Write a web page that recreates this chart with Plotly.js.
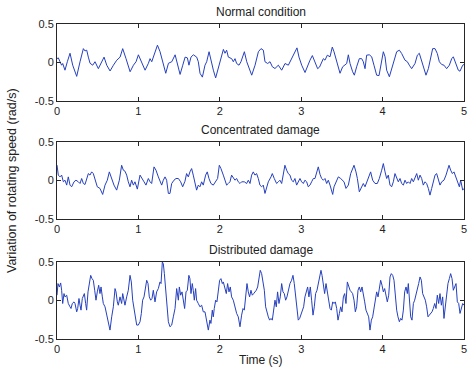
<!DOCTYPE html>
<html><head><meta charset="utf-8">
<script src="https://cdn.plot.ly/plotly-3.0.1.min.js"></script>
<style>html,body{margin:0;padding:0;background:#fff}#c{width:473px;height:374px}</style>
</head><body><div id="c"></div>
<script>
// ---- data ----
const titles = ["Normal condition", "Concentrated damage", "Distributed damage"];
const xTicks = [0, 1, 2, 3, 4, 5];
const yTicks = [-0.5, 0, 0.5];
const yTickText = ["-0.5", "0", "0.5"];

const tNormal = [0,0.016,0.037,0.057,0.07,0.098,0.127,0.16,0.193,0.242,0.283,0.324,0.344,0.365,0.385,0.406,0.439,0.467,0.508,0.549,0.578,0.611,0.652,0.693,0.734,0.775,0.807,0.848,0.898,0.939,0.971,1.0,1.041,1.082,1.123,1.143,1.164,1.184,1.234,1.266,1.299,1.336,1.369,1.41,1.451,1.484,1.512,1.545,1.574,1.602,1.621,1.646,1.675,1.716,1.736,1.757,1.786,1.818,1.839,1.868,1.892,1.921,1.949,1.982,2.015,2.044,2.064,2.084,2.105,2.146,2.166,2.187,2.207,2.236,2.26,2.302,2.331,2.371,2.392,2.433,2.474,2.506,2.535,2.555,2.588,2.617,2.646,2.678,2.719,2.76,2.801,2.842,2.883,2.924,2.948,2.973,3.006,3.047,3.079,3.108,3.137,3.17,3.202,3.225,3.272,3.292,3.321,3.354,3.382,3.403,3.436,3.477,3.509,3.538,3.559,3.579,3.6,3.632,3.653,3.681,3.714,3.743,3.763,3.784,3.804,3.837,3.866,3.894,3.927,3.956,3.989,4.009,4.03,4.05,4.083,4.111,4.14,4.173,4.206,4.234,4.275,4.304,4.328,4.357,4.398,4.427,4.451,4.48,4.509,4.533,4.562,4.59,4.615,4.644,4.672,4.697,4.726,4.754,4.787,4.82,4.849,4.869,4.902,4.93,4.951,4.984,5.0];
const vNormal = [0.05,0.06,0.01,-0.035,-0.013,-0.10,0.01,0.12,-0.035,-0.18,0.01,0.18,0.15,0.16,0.07,-0.01,-0.035,0.01,-0.08,0.01,0.07,-0.035,-0.11,-0.035,0.03,0.07,0.18,0.05,-0.12,-0.035,0.01,0.10,0.01,-0.10,-0.01,0.05,0.01,0.07,0.225,0.14,-0.01,-0.14,-0.01,0.01,0.10,-0.035,-0.155,-0.035,0.07,0.06,-0.035,0.07,0.10,0.07,0.01,-0.14,-0.19,-0.035,0.01,0.14,0.01,-0.10,-0.20,-0.08,0.05,0.17,0.12,0.16,0.07,0.05,0.01,0.05,-0.013,-0.035,0.01,0.14,0.01,-0.10,-0.165,-0.035,0.14,0.18,0.16,0.01,-0.013,0.01,-0.056,-0.078,-0.035,-0.10,-0.013,-0.035,0.05,0.14,0.19,0.07,-0.035,-0.13,-0.035,0.03,0.09,0.01,-0.08,-0.06,0.05,0.03,0.095,0.074,0.20,0.14,0.01,-0.14,-0.056,-0.035,-0.013,0.10,-0.013,-0.12,-0.165,-0.056,0.05,0.05,0.01,-0.08,0.095,0.10,0.074,-0.035,-0.165,-0.17,0.01,0.14,0.074,-0.10,-0.185,-0.08,0.01,0.14,0.16,0.117,0.03,0.01,-0.035,-0.08,-0.013,0.095,0.12,0.01,-0.10,-0.165,-0.08,0.05,0.18,0.18,0.117,0.01,-0.026,-0.035,-0.08,-0.035,0.05,0.074,-0.013,-0.10,-0.113,-0.035,-0.026];

const tConc = [0,0.016,0.037,0.057,0.078,0.098,0.119,0.139,0.16,0.18,0.209,0.233,0.262,0.283,0.303,0.324,0.344,0.364,0.385,0.405,0.426,0.446,0.467,0.495,0.528,0.561,0.59,0.618,0.643,0.672,0.70,0.733,0.766,0.794,0.815,0.835,0.856,0.876,0.897,0.917,0.938,0.958,0.987,1.02,1.04,1.069,1.093,1.122,1.143,1.163,1.192,1.216,1.245,1.265,1.286,1.306,1.327,1.347,1.368,1.388,1.409,1.437,1.462,1.491,1.519,1.544,1.572,1.592,1.613,1.633,1.654,1.674,1.695,1.715,1.736,1.756,1.777,1.797,1.826,1.846,1.867,1.891,1.92,1.949,1.973,1.994,2.014,2.043,2.063,2.084,2.104,2.125,2.145,2.166,2.186,2.207,2.227,2.248,2.268,2.301,2.33,2.35,2.371,2.391,2.411,2.432,2.452,2.473,2.493,2.514,2.534,2.555,2.575,2.596,2.629,2.645,2.669,2.698,2.719,2.739,2.76,2.78,2.80,2.821,2.841,2.862,2.882,2.903,2.923,2.944,2.964,2.985,3.005,3.026,3.046,3.067,3.087,3.108,3.128,3.149,3.169,3.19,3.21,3.231,3.251,3.272,3.292,3.313,3.333,3.354,3.374,3.387,3.403,3.428,3.456,3.485,3.509,3.526,3.55,3.579,3.608,3.628,3.649,3.673,3.69,3.714,3.743,3.763,3.784,3.812,3.837,3.853,3.878,3.907,3.935,3.96,3.989,4.009,4.03,4.05,4.07,4.091,4.111,4.132,4.152,4.173,4.193,4.214,4.234,4.255,4.275,4.296,4.316,4.337,4.357,4.378,4.398,4.419,4.439,4.46,4.48,4.50,4.521,4.541,4.562,4.582,4.603,4.623,4.644,4.664,4.685,4.705,4.726,4.754,4.779,4.799,4.816,4.836,4.857,4.877,4.902,4.922,4.943,4.959,4.984,5.0];
const vConc = [0.20,0.07,0.047,0.07,-0.017,0.004,-0.06,0.047,-0.06,-0.082,-0.017,0.004,-0.017,-0.039,0.026,-0.039,-0.052,0.004,0.09,0.07,0.112,0.09,0.026,-0.082,-0.103,-0.181,-0.06,0.004,0.112,0.026,-0.06,-0.125,0.004,0.198,0.134,0.121,0.07,-0.017,-0.082,0.004,-0.06,-0.017,-0.112,0.07,0.026,-0.017,-0.06,0.026,-0.017,-0.039,0.177,0.134,0.047,-0.017,-0.06,0.004,0.047,0.004,-0.168,-0.168,-0.039,0.004,0.026,0.026,-0.017,-0.082,-0.01,0.09,0.047,0.112,0.155,0.07,-0.017,-0.125,-0.06,-0.082,-0.017,-0.06,0.07,0.112,0.026,-0.039,-0.06,-0.017,0.026,0.198,0.155,0.07,0.004,-0.06,-0.039,-0.017,0.07,0.026,0.004,0.026,-0.017,-0.039,-0.017,-0.017,-0.039,0.004,-0.039,0.07,0.112,0.07,0.09,0.026,-0.06,-0.082,-0.06,-0.168,-0.103,-0.017,0.047,0.09,0.026,-0.039,-0.017,0.004,-0.039,0.112,0.198,0.134,0.09,0.07,0.004,-0.017,0.026,-0.06,-0.017,0.026,-0.017,-0.039,0.004,-0.017,-0.082,-0.06,-0.017,0.026,0.026,0.09,0.177,0.08,0.026,0.004,0.026,-0.039,0.004,-0.06,-0.125,-0.181,-0.082,-0.017,0.047,0.026,0.004,-0.017,-0.103,-0.06,0.09,0.155,0.198,0.112,0.026,-0.147,-0.082,-0.039,-0.082,0.004,0.09,0.112,0.004,-0.039,-0.039,0.026,0.134,0.22,0.112,0.026,0.07,-0.06,-0.082,-0.017,0.09,0.026,-0.017,0.026,-0.039,-0.06,0.004,-0.039,-0.017,-0.039,0.026,-0.017,0.047,0.09,0.004,0.07,0.026,-0.06,-0.017,-0.039,-0.103,-0.19,-0.103,-0.017,0.07,0.09,0.026,-0.06,-0.017,0.004,0.07,0.155,0.198,0.134,0.09,0.112,0.047,-0.017,-0.082,0.004,-0.125,-0.103];

const tDist = [0,0.012,0.029,0.045,0.057,0.07,0.086,0.098,0.119,0.127,0.139,0.16,0.172,0.188,0.209,0.221,0.242,0.254,0.27,0.283,0.295,0.311,0.324,0.336,0.352,0.364,0.381,0.397,0.414,0.43,0.446,0.463,0.479,0.495,0.512,0.528,0.541,0.557,0.569,0.59,0.61,0.631,0.651,0.672,0.692,0.713,0.725,0.741,0.753,0.774,0.794,0.807,0.823,0.835,0.856,0.876,0.897,0.913,0.93,0.946,0.962,0.979,0.999,1.02,1.036,1.052,1.069,1.085,1.102,1.118,1.134,1.151,1.167,1.183,1.204,1.224,1.245,1.265,1.278,1.294,1.306,1.319,1.335,1.347,1.368,1.388,1.409,1.429,1.45,1.47,1.491,1.503,1.519,1.536,1.552,1.568,1.585,1.601,1.62,1.633,1.646,1.662,1.674,1.687,1.703,1.715,1.736,1.756,1.777,1.797,1.818,1.83,1.846,1.859,1.879,1.891,1.908,1.92,1.932,1.949,1.965,1.982,1.998,2.014,2.031,2.043,2.063,2.08,2.096,2.113,2.129,2.145,2.166,2.186,2.207,2.227,2.248,2.268,2.285,2.301,2.317,2.334,2.35,2.366,2.383,2.399,2.416,2.432,2.448,2.465,2.481,2.497,2.514,2.53,2.547,2.563,2.579,2.596,2.612,2.629,2.645,2.661,2.678,2.694,2.71,2.727,2.743,2.76,2.776,2.792,2.809,2.825,2.841,2.862,2.882,2.899,2.915,2.932,2.948,2.964,2.981,2.997,3.013,3.03,3.046,3.063,3.079,3.095,3.112,3.128,3.145,3.161,3.177,3.194,3.21,3.226,3.243,3.256,3.272,3.288,3.305,3.321,3.337,3.354,3.37,3.387,3.403,3.419,3.436,3.452,3.469,3.485,3.501,3.518,3.534,3.55,3.567,3.583,3.60,3.616,3.632,3.649,3.665,3.681,3.698,3.714,3.731,3.747,3.763,3.78,3.796,3.812,3.829,3.845,3.862,3.878,3.894,3.911,3.927,3.944,3.96,3.976,3.993,4.009,4.025,4.042,4.058,4.075,4.091,4.107,4.124,4.14,4.156,4.173,4.189,4.206,4.222,4.238,4.255,4.271,4.288,4.304,4.316,4.328,4.345,4.361,4.378,4.394,4.41,4.427,4.443,4.46,4.476,4.492,4.509,4.525,4.541,4.558,4.574,4.59,4.607,4.623,4.64,4.656,4.672,4.689,4.705,4.722,4.738,4.754,4.771,4.787,4.803,4.82,4.836,4.853,4.869,4.885,4.902,4.918,4.935,4.951,4.967,4.984,5.0];
const vDist = [0.065,0.216,0.172,0.224,0.129,-0.043,0.086,0.043,0.065,0.022,-0.043,-0.086,-0.108,-0.043,-0.022,-0.043,-0.151,-0.108,0.022,-0.065,-0.129,0.022,0.065,0.086,-0.043,-0.129,0.108,0.216,0.323,0.28,0.259,0.129,0,0.108,0.194,0.086,0.172,0.043,-0.043,-0.086,-0.172,-0.28,-0.388,-0.216,-0.086,0.151,0.108,-0.022,-0.065,0.043,-0.043,0.086,-0.022,-0.065,0.043,0.129,0.323,0.237,0,-0.108,-0.259,-0.323,-0.323,-0.28,-0.172,0,0.043,0.151,0.259,0.216,0.043,0,0.022,0.129,-0.022,0.108,0.151,0.237,0.216,0.496,0.474,0.345,0.129,0,-0.28,-0.345,-0.323,-0.216,-0.108,0.151,0,0.172,0.065,0.108,0,-0.108,0.108,0.129,0.323,0.28,0.086,0.216,0.129,0,0.151,0,-0.043,-0.086,-0.065,-0.151,-0.151,-0.237,-0.345,-0.388,-0.259,-0.302,-0.129,-0.216,-0.108,0,-0.022,0.172,0.259,0.28,0.216,0.237,0.172,0.086,0.216,0.108,0.172,0.043,0,-0.086,-0.172,-0.216,-0.345,-0.194,-0.108,-0.129,0.043,0.216,0.108,0.043,0.129,0.065,0.086,0.108,0.129,0.172,0.28,0.388,0.345,0.259,0.129,-0.086,-0.172,-0.216,-0.259,-0.237,-0.259,-0.151,0,-0.086,0.108,-0.043,0.043,0.216,0.108,0.086,0,0.043,0.129,0.216,0.259,0.323,0.216,0.043,-0.129,-0.259,-0.237,-0.194,-0.129,-0.086,0.043,0.129,0.172,0.043,0.172,0,-0.194,-0.086,0.086,0.129,0.216,0.302,0.388,0.323,0.172,0.086,0.216,0.108,0.043,-0.108,-0.129,-0.022,-0.043,-0.022,-0.108,-0.259,-0.172,-0.086,-0.151,0.043,0.086,-0.043,0.237,0.172,0.129,0.108,0.086,0,-0.151,-0.086,0.129,0.172,0.108,0.172,0.043,-0.022,-0.129,-0.172,-0.216,-0.388,-0.259,-0.216,-0.108,0.022,0.108,0.043,0.151,0.259,0.194,0.108,0.151,0.043,-0.022,0.065,0.302,0.345,0.323,0.259,0.043,-0.129,-0.216,-0.28,-0.237,-0.259,-0.129,0.108,0.172,0.086,0.216,0.043,-0.216,-0.259,-0.043,0,0.086,0.129,0.216,0.302,0.259,0.086,0.043,0,-0.086,-0.216,-0.194,-0.172,-0.151,-0.108,-0.043,-0.108,0.065,-0.043,0.086,-0.065,0.043,-0.237,-0.086,0.043,0.216,0.28,0.345,0.28,0.129,0.172,0.216,-0.022,-0.043,-0.172,-0.086,-0.043,-0.065];

// ---- chart ----
const W = 473, H = 374;
const lineColor = 'rgb(38,64,190)';
const fam = '"Liberation Sans", Arial, sans-serif';
const tickFont = {family: fam, size: 11, color: '#222'};
const titleFont = {family: fam, size: 12, color: '#222'};
const labelFont = {family: fam, size: 12.5, color: '#222'};
const series = [[tNormal, vNormal], [tConc, vConc], [tDist, vDist]];
const pxTop = [24, 142, 261.7], pxBot = [101, 219, 338.7];

const traces = series.map((s, i) => ({
  x: s[0], y: s[1], type: 'scatter', mode: 'lines',
  line: {color: lineColor, width: 1}, hoverinfo: 'skip',
  xaxis: i === 0 ? 'x' : 'x' + (i + 1), yaxis: i === 0 ? 'y' : 'y' + (i + 1)
}));

const layout = {
  width: W, height: H, margin: {l: 57, r: 9, t: 0, b: 0},
  paper_bgcolor: '#fff', plot_bgcolor: '#fff', showlegend: false, font: tickFont,
  annotations: []
};
const axCommon = {
  showgrid: false, zeroline: false, showline: true, linecolor: '#262626', linewidth: 1,
  mirror: 'ticks', ticks: 'inside', ticklen: 4, tickcolor: '#262626', tickwidth: 1,
  tickfont: tickFont
};
for (let i = 0; i < 3; i++) {
  const sfx = i === 0 ? '' : String(i + 1);
  layout['xaxis' + sfx] = Object.assign({}, axCommon, {
    range: [0, 5], tickvals: xTicks, ticktext: xTicks.map(String),
    anchor: 'y' + sfx, domain: [0, 1]
  });
  layout['yaxis' + sfx] = Object.assign({}, axCommon, {
    range: [-0.5, 0.5], tickvals: yTicks, ticktext: yTickText,
    anchor: 'x' + sfx, domain: [1 - pxBot[i] / H, 1 - pxTop[i] / H]
  });
  layout.annotations.push({
    text: titles[i], xref: 'paper', yref: 'paper', x: 0.5, xanchor: 'center',
    y: 1 - (pxTop[i] - 3) / H, yanchor: 'bottom', showarrow: false, font: titleFont
  });
}
layout.annotations.push({
  text: 'Time (s)', xref: 'paper', yref: 'paper', x: 0.5, xanchor: 'center',
  y: 1 - 360 / H, yanchor: 'middle', showarrow: false, font: titleFont
});
layout.annotations.push({
  text: 'Variation of rotating speed (rad/s)', xref: 'paper', yref: 'paper',
  x: (12 - 57) / 407, xanchor: 'center', y: 1 - 181 / H, yanchor: 'middle',
  textangle: -90, showarrow: false, font: labelFont
});

Plotly.newPlot('c', traces, layout, {staticPlot: true, displayModeBar: false});
</script></body></html>
